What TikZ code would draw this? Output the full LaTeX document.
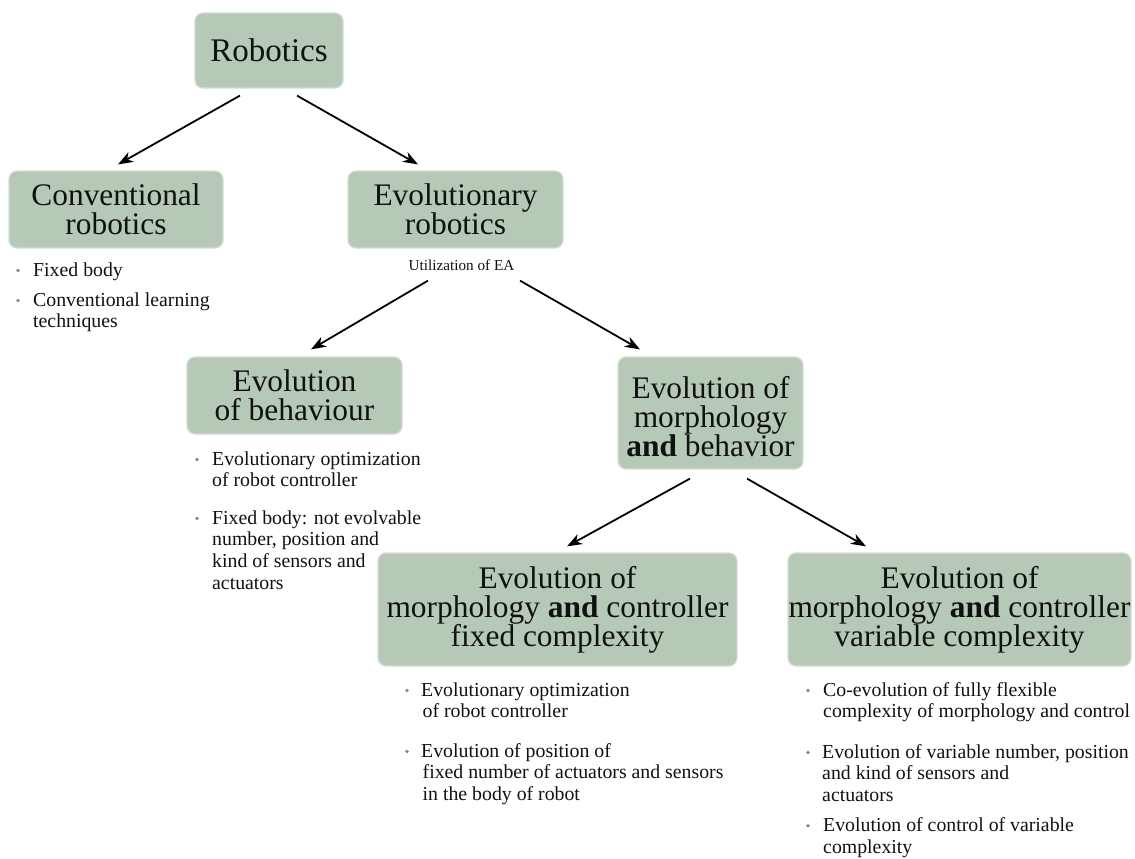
\documentclass[tikz,border=0pt]{standalone}
\usepackage{fontspec}
\setmainfont{Liberation Serif}
\usetikzlibrary{arrows.meta}
\definecolor{boxfill}{RGB}{181,201,182}
\definecolor{boxline}{RGB}{214,219,214}
\definecolor{dotgray}{RGB}{135,135,135}
\definecolor{ink}{RGB}{17,17,17}

\begin{document}
\begin{tikzpicture}[x=1pt,y=-1pt,
  titlebox/.style={draw=boxline, line width=1.2pt, fill=boxfill, rounded corners=8pt,
    align=center, inner sep=0pt, text=ink, font=\fontsize{31.4}{29}\selectfont},
  link/.style={line width=1.8pt, draw=black, -{Stealth[length=15pt,width=11pt,inset=4.5pt]}},
  % lists are placed by the baseline of their last line
  item/.style={anchor=base west, align=left, inner sep=0pt, text=ink,
    font=\fontsize{19.8}{21.8}\selectfont},
  dot/.style={circle, fill=dotgray, inner sep=0pt, minimum size=3.8pt},
  note/.style={inner sep=0pt, text=ink, font=\fontsize{15.2}{17}\selectfont},
]
\clip (0,0) rectangle (1135,859);
\fill[white] (0,0) rectangle (1135,859);

% category boxes
\node[titlebox, minimum width=148pt, minimum height=75pt, font=\fontsize{33}{30}\selectfont]
  (rob) at (269,50.5) {Robotics};
\node[titlebox, minimum width=214pt, minimum height=77pt] (conv) at (116,209.5)
  {Conventional\\robotics};
\node[titlebox, minimum width=215pt, minimum height=77pt] (evo) at (455.5,209.5)
  {Evolutionary\\robotics};
\node[titlebox, minimum width=215pt, minimum height=77pt] (beh) at (294.5,395.5)
  {Evolution\\of behaviour};
\node[titlebox, minimum width=185pt, minimum height=112pt, text height=87.5pt, text depth=0pt]
  (morph) at (710.5,413)
  {Evolution of\\morphology\\\textbf{and} behavior};
\node[titlebox, minimum width=359pt, minimum height=113pt] (fix) at (557.5,609.5)
  {Evolution of\\morphology \textbf{and} controller\\fixed complexity};
\node[titlebox, minimum width=343pt, minimum height=113pt] (var) at (959.5,609.5)
  {Evolution of\\morphology \textbf{and} controller\\variable complexity};

\node[note] (util) at (461.5,265) {Utilization of EA};

% connectors
\draw[link] ([xshift=-29pt,yshift=-7pt]rob.south) -- ([xshift=2pt,yshift=6pt]conv.north);
\draw[link] ([xshift=28pt,yshift=-7pt]rob.south) -- ([xshift=-37.5pt,yshift=6pt]evo.north);
\draw[link] ([xshift=-27.5pt,yshift=-32pt]evo.south) -- ([xshift=16.5pt,yshift=7pt]beh.north);
\draw[link] ([xshift=64.5pt,yshift=-32pt]evo.south) -- ([xshift=-70.5pt,yshift=7pt]morph.north);
\draw[link] ([xshift=-20.5pt,yshift=-9pt]morph.south) -- ([xshift=9.5pt,yshift=6pt]fix.north);
\draw[link] ([xshift=36.5pt,yshift=-9pt]morph.south) -- ([xshift=-93.5pt,yshift=6pt]var.north);

% bullet lists
\node[item] (c1) at (33,276) {Fixed body};
\node[item] (c2) at (33,327.8) {Conventional learning\\techniques};
\node[dot] (cd1) at (18,270.5) {};
\node[dot] (cd2) at (18,300.5) {};

\node[item] (b1) at (212,486.8) {Evolutionary optimization\\of robot controller};
\node[item] (b2) at (212,589.4) {Fixed body: not evolvable\\number, position and\\kind of sensors and\\actuators};
\node[dot] (bd1) at (197,459.5) {};
\node[dot] (bd2) at (197,518.5) {};

\node[item] (f1) at (421,717.8) {Evolutionary optimization\\\hspace*{1.5pt}of robot controller};
\node[item] (f2) at (421,800.6) {Evolution of position of\\\hspace*{1.5pt}fixed number of actuators and sensors\\\hspace*{1.5pt}in the body of robot};
\node[dot] (fd1) at (407,690.5) {};
\node[dot] (fd2) at (407,751.5) {};

\node[item] (v1) at (823,717.8) {Co-evolution of fully flexible\\complexity of morphology and control};
\node[item] (v2) at (822,801.6) {Evolution of variable number, position\\and kind of sensors and\\actuators};
\node[item] (v3) at (823,853) {Evolution of control of variable\\complexity};
\node[dot] (vd1) at (808,690.5) {};
\node[dot] (vd2) at (808,752.5) {};
\node[dot] (vd3) at (808,825.7) {};
\end{tikzpicture}
\end{document}
